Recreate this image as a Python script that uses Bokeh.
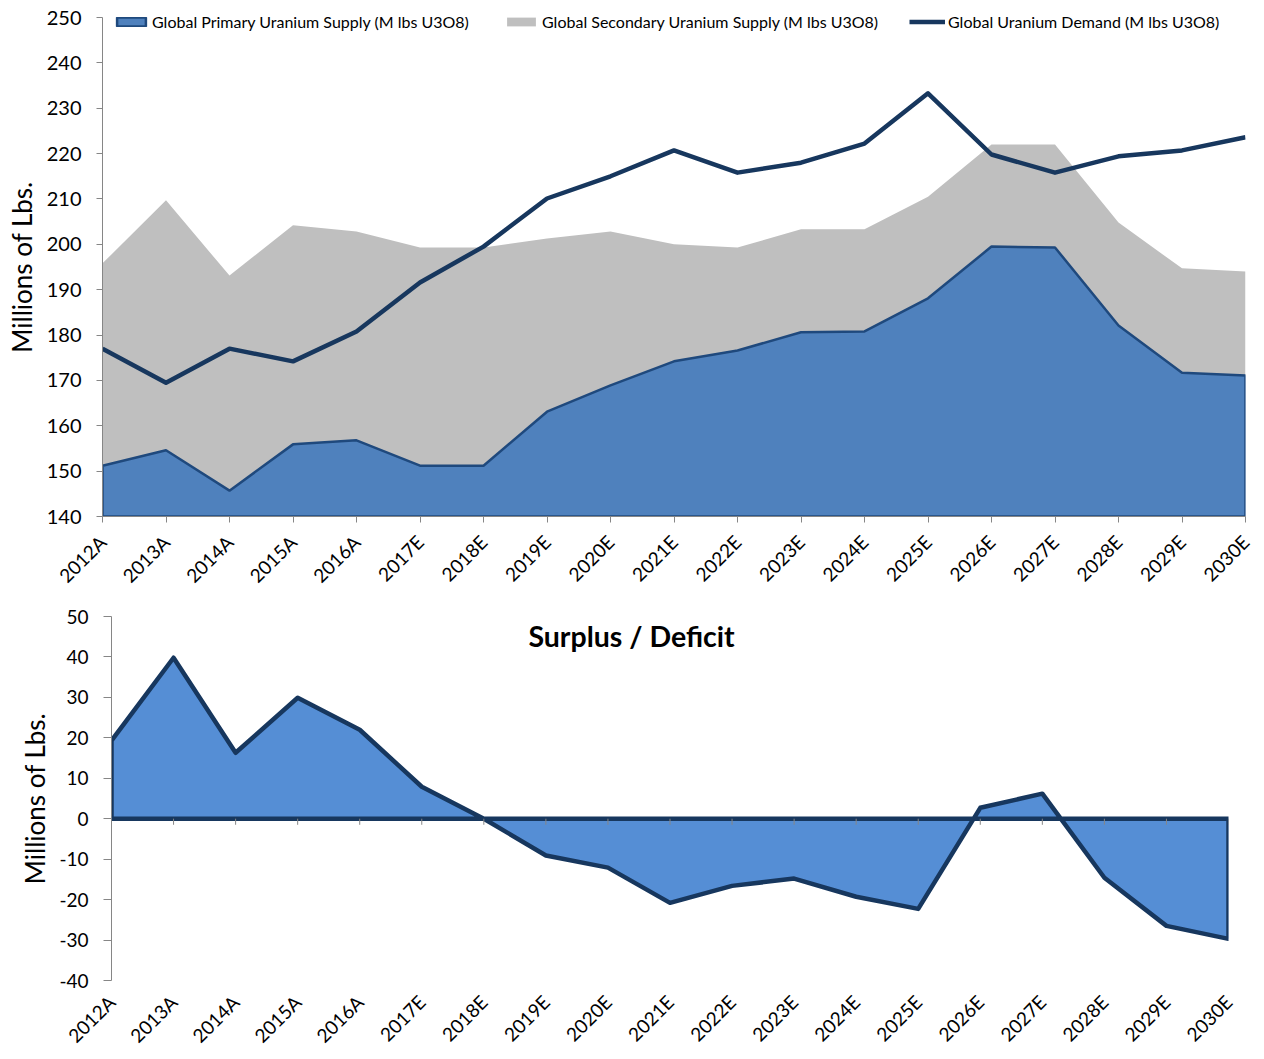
import math
from bokeh.plotting import figure
from bokeh.models import FixedTicker, Legend, LegendItem, Label
from bokeh.embed import file_html
from bokeh.resources import INLINE

categories = ["2012A", "2013A", "2014A", "2015A", "2016A", "2017E", "2018E", "2019E",
              "2020E", "2021E", "2022E", "2023E", "2024E", "2025E", "2026E", "2027E",
              "2028E", "2029E", "2030E"]
primary = [151.2, 154.6, 145.7, 155.9, 156.8, 151.2, 151.2, 163.1, 168.9, 174.2,
           176.6, 180.6, 180.8, 188.1, 199.5, 199.3, 182.1, 171.7, 171.1]
secondary = [44.6, 55.1, 47.4, 48.3, 46.0, 48.1, 48.1, 38.2, 33.9, 25.8,
             22.7, 22.7, 22.5, 22.4, 22.5, 22.7, 22.7, 23.0, 22.9]
demand = [177.0, 169.5, 177.0, 174.2, 180.8, 191.6, 199.5, 210.1, 215.0, 220.7,
          215.8, 218.0, 222.2, 233.3, 219.8, 215.8, 219.4, 220.7, 223.6]
surplus = [19.3, 39.8, 16.3, 29.9, 22.0, 7.9, 0.0, -9.1, -12.1, -20.8,
           -16.6, -14.8, -19.3, -22.3, 2.7, 6.2, -14.6, -26.5, -29.7]
top_ticks = list(range(140, 251, 10))
bottom_ticks = list(range(-40, 51, 10))

FONT = "Lato"
AXIS_GREY = "#868686"
n = len(categories)
xs = list(range(n))
labels = {i: c for i, c in enumerate(categories)}


def style_axes(p, yticks, ytick_size, tick_out, label_standoff, axis_label_standoff):
    p.xgrid.visible = False
    p.ygrid.visible = False
    p.outline_line_color = None
    for ax in p.yaxis:
        ax.ticker = FixedTicker(ticks=yticks)
        ax.major_label_overrides = {t: str(t) for t in yticks}
        ax.axis_line_color = AXIS_GREY
        ax.major_tick_line_color = AXIS_GREY
        ax.major_tick_out = tick_out
        ax.major_tick_in = 0
        ax.minor_tick_line_color = None
        ax.major_label_text_font = FONT
        ax.major_label_text_font_size = ytick_size
        ax.major_label_text_color = "black"
        ax.major_label_standoff = label_standoff
        ax.axis_label = "Millions of Lbs."
        ax.axis_label_text_font = FONT
        ax.axis_label_text_font_size = "26px"
        ax.axis_label_text_font_style = "normal"
        ax.axis_label_text_color = "black"
        ax.axis_label_standoff = axis_label_standoff
    for ax in p.xaxis:
        ax.ticker = FixedTicker(ticks=xs)
        ax.major_label_overrides = labels
        ax.major_label_orientation = math.pi / 4
        ax.major_label_text_font = FONT
        ax.major_label_text_font_size = "19px"
        ax.major_label_text_color = "black"
        ax.minor_tick_line_color = None


# ---------------- Top chart ----------------
p1 = figure(width=1256, height=598, x_range=(0, n - 1), y_range=(140, 250),
            output_backend="svg", toolbar_location=None,
            min_border_left=102, min_border_right=11, min_border_top=17, min_border_bottom=82)
style_axes(p1, top_ticks, "20px", 6, 15, 6)
p1.xaxis.axis_line_color = AXIS_GREY
p1.xaxis.major_tick_line_color = AXIS_GREY
p1.xaxis.major_tick_out = 6
p1.xaxis.major_tick_in = 0
p1.xaxis.major_label_standoff = 16

total = [a + b for a, b in zip(primary, secondary)]
r_sec = p1.varea(x=xs, y1=primary, y2=total, fill_color="#BFBFBF")
r_pri = p1.patch(x=xs + [xs[-1], xs[0]], y=primary + [top_ticks[0], top_ticks[0]],
                 fill_color="#4F81BD", line_color="#1F497D", line_width=2.5)
r_dem = p1.line(x=xs, y=demand, line_color="#17375E", line_width=4.5, line_join="round")

leg_specs = [("Global Primary Uranium Supply (M lbs U3O8)", r_pri, 11),
             ("Global Secondary Uranium Supply (M lbs U3O8)", r_sec, 401),
             ("Global Uranium Demand (M lbs U3O8)", r_dem, 807)]
for text, rend, xoff in leg_specs:
    lg = Legend(items=[LegendItem(label=text, renderers=[rend])],
                location=(xoff, 485), orientation="horizontal",
                background_fill_alpha=0, border_line_color=None,
                padding=0, margin=0, glyph_width=36, glyph_height=11,
                label_height=20, label_standoff=3,
                label_text_font=FONT, label_text_font_size="16px",
                label_text_color="black")
    p1.add_layout(lg)

# ---------------- Bottom chart ----------------
p2 = figure(width=1256, height=460, x_range=(0, n - 1), y_range=(-40, 50),
            output_backend="svg", toolbar_location=None,
            min_border_left=111, min_border_right=28, min_border_top=18, min_border_bottom=78)
style_axes(p2, bottom_ticks, "19px", 8, 15, 5)
p2.xaxis.axis_line_color = None
p2.xaxis.major_tick_line_color = None
p2.xaxis.major_label_standoff = 12

p2.patch(x=xs + [xs[-1], xs[0]], y=surplus + [0, 0],
         fill_color="#558ED5", line_color="#17375E", line_width=4.5, line_join="round")
p2.segment(x0=xs, y0=[0] * n, x1=xs, y1=[-1.5] * n, line_color=AXIS_GREY, line_width=1)

title = Label(x=8.38, y=45.3, text="Surplus / Deficit", text_font=FONT,
              text_font_size="28.5px", text_font_style="bold", text_color="black",
              text_align="center", text_baseline="middle")
p2.add_layout(title)

open("out.html", "w").write(file_html([p1, p2], INLINE))
